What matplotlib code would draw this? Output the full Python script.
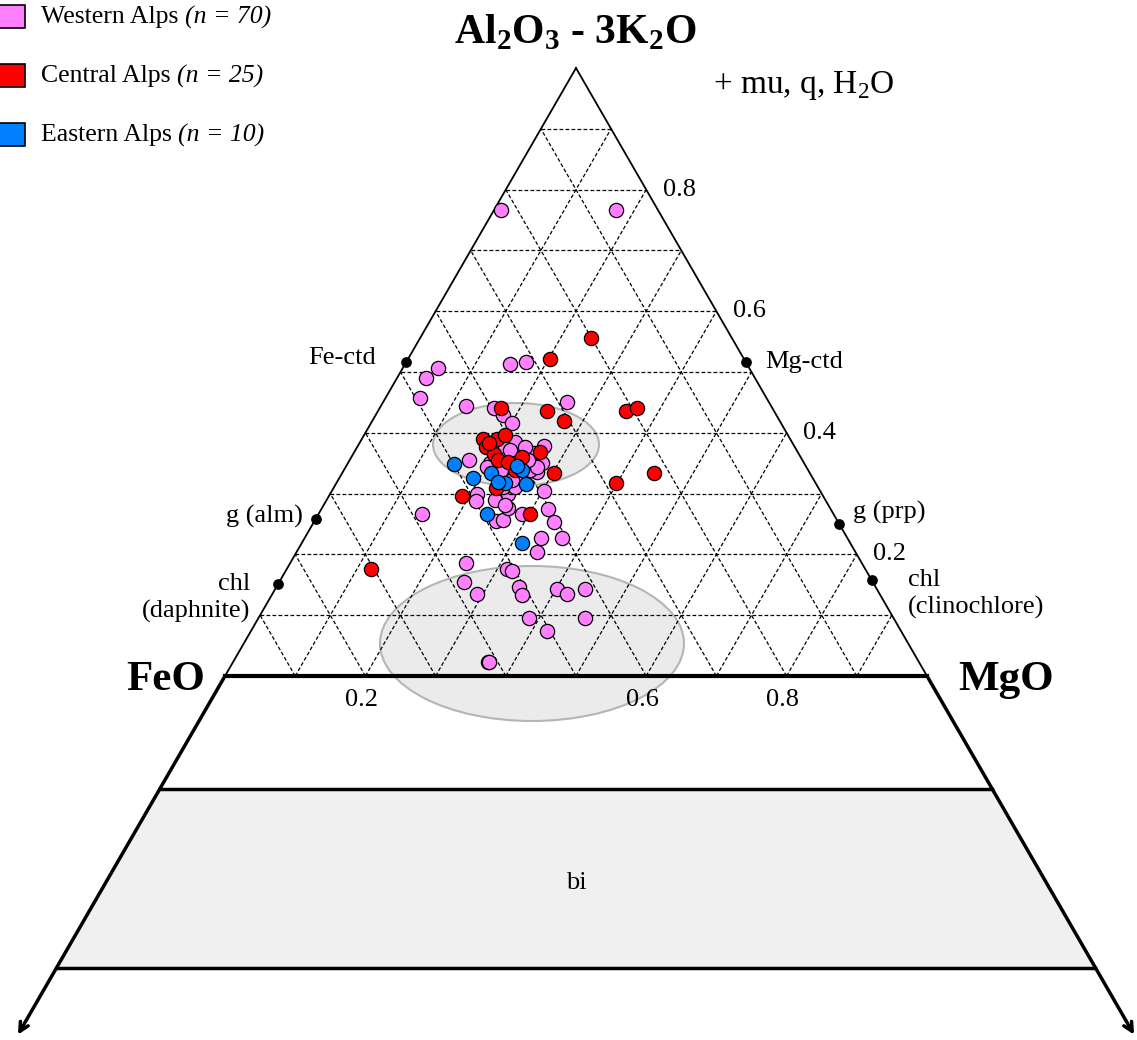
import numpy as np
import matplotlib.pyplot as plt
from matplotlib.patches import Ellipse, Polygon, Rectangle

plt.rcParams['font.family'] = ['Liberation Serif', 'DejaVu Serif']
plt.rcParams['mathtext.fontset'] = 'custom'
plt.rcParams['mathtext.rm'] = 'Liberation Serif'
plt.rcParams['mathtext.bf'] = 'Liberation Serif:bold'

# AFM projection: A = Al2O3 - 3K2O fraction, M = MgO fraction (F = 1 - A - M)
west_A = [0.766, 0.766, 0.507, 0.490, 0.457, 0.513, 0.516, 0.444, 0.441, 0.429,
          0.416, 0.451, 0.385, 0.375, 0.368, 0.378, 0.367, 0.360, 0.355, 0.350,
          0.350, 0.350, 0.336, 0.326, 0.327, 0.299, 0.304, 0.299, 0.288, 0.311,
          0.266, 0.255, 0.257, 0.276, 0.266, 0.275, 0.253, 0.227, 0.227, 0.204,
          0.186, 0.176, 0.173, 0.155, 0.135, 0.146, 0.133, 0.143, 0.135, 0.143,
          0.095, 0.095, 0.074, 0.023, 0.023, 0.363, 0.339, 0.344, 0.317, 0.311,
          0.311, 0.344, 0.372, 0.377, 0.339, 0.322, 0.355, 0.289, 0.352, 0.281]
west_M = [0.010, 0.174, 0.050, 0.041, 0.049, 0.149, 0.171, 0.121, 0.162, 0.181,
          0.201, 0.262, 0.221, 0.211, 0.246, 0.265, 0.257, 0.223, 0.170, 0.202,
          0.264, 0.277, 0.276, 0.230, 0.252, 0.253, 0.302, 0.210, 0.214, 0.252,
          0.148, 0.258, 0.267, 0.265, 0.290, 0.322, 0.342, 0.336, 0.366, 0.342,
          0.250, 0.314, 0.323, 0.263, 0.291, 0.346, 0.356, 0.402, 0.419, 0.442,
          0.385, 0.466, 0.422, 0.363, 0.365, 0.238, 0.265, 0.272, 0.261, 0.241,
          0.258, 0.201, 0.220, 0.239, 0.223, 0.248, 0.254, 0.240, 0.241, 0.258]

central_A = [0.556, 0.521, 0.441, 0.436, 0.419, 0.436, 0.441, 0.390, 0.377, 0.390,
             0.396, 0.368, 0.365, 0.355, 0.360, 0.339, 0.334, 0.309, 0.296, 0.266,
             0.317, 0.334, 0.176, 0.383, 0.352]
central_M = [0.243, 0.203, 0.173, 0.241, 0.274, 0.353, 0.367, 0.173, 0.184, 0.192,
             0.201, 0.265, 0.200, 0.211, 0.243, 0.243, 0.302, 0.232, 0.190, 0.301,
             0.398, 0.444, 0.120, 0.184, 0.227]

eastern_A = [0.349, 0.326, 0.334, 0.339, 0.316, 0.266, 0.219, 0.317, 0.345, 0.319]
eastern_M = [0.151, 0.190, 0.212, 0.254, 0.271, 0.240, 0.314, 0.240, 0.244, 0.229]

# end-member phases
phase_names = ['Fe-ctd', 'Mg-ctd', 'g (alm)', 'g (prp)', 'chl\n(daphnite)', 'chl\n(clinochlore)']
phase_A = [0.516, 0.516, 0.258, 0.250, 0.151, 0.158]
phase_M = [0.000, 0.484, 0.000, 0.750, 0.000, 0.842]

right_ticks = [0.8, 0.6, 0.4, 0.2]
base_ticks = [0.2, 0.6, 0.8]

# biotite band and lower limit of the projection
bi_top, bi_bot, arrow_end = -0.186, -0.480, -0.59

H = np.sqrt(3) / 2


def tern(A, M):
    A = np.asarray(A, dtype=float)
    M = np.asarray(M, dtype=float)
    return M + A / 2, A * H


def px(x, y):
    # reference pixel position -> data coordinates (layout only)
    return (x - 225) / 702, (676 - y) / 702


fig = plt.figure(figsize=(11.37, 10.40), dpi=100)
ax = fig.add_axes([0, 0, 1, 1])
ax.set_xlim(-225 / 702, 912 / 702)
ax.set_ylim(-364 / 702, 676 / 702)
ax.axis('off')

# grid
gkw = dict(color='k', lw=0.9, ls=(0, (3, 1.8)), zorder=2)
for k in range(1, 10):
    t = k / 10
    ax.plot(*tern([t, t], [0, 1 - t]), **gkw)
    ax.plot(*tern([0, 1 - t], [t, t]), **gkw)
    ax.plot(*tern([0, 1 - t], [1 - t, 0]), **gkw)

# triangle
ax.plot(*tern([0, 1], [0, 0]), color='k', lw=1.3, zorder=3)
ax.plot(*tern([0, 1], [1, 0]), color='k', lw=1.3, zorder=3)
ax.plot(*tern([0, 0], [0, 1]), color='k', lw=3, zorder=3)

# below the base: biotite band and arrows
bx1, by1 = tern([bi_top, bi_top, bi_bot, bi_bot], [0, 1 - bi_top, 1 - bi_bot, 0])
ax.add_patch(Polygon(np.column_stack([bx1, by1]), closed=True,
                     facecolor='#f0f0f0', edgecolor='none', zorder=1))
for a in [bi_top, bi_bot]:
    ax.plot(*tern([a, a], [0, 1 - a]), color='k', lw=2.5, zorder=3)
for m0, m1 in [(0, 0), (1, 1 - arrow_end)]:
    ax.annotate('', xy=tern(arrow_end, m1), xytext=tern(0, m0),
                arrowprops=dict(arrowstyle='->', lw=2.5, color='k',
                                shrinkA=0, shrinkB=0, mutation_scale=16), zorder=3)
ax.text(*tern(-0.34, 0.67), 'bi', fontsize=19, ha='center', va='center')

# grey fields
ax.add_patch(Ellipse(px(516, 444.5), 166 / 702, 83 / 702, facecolor='#ebebeb',
                     edgecolor='#b5b5b5', lw=1.5, zorder=1))
ax.add_patch(Ellipse(px(532, 643.5), 304 / 702, 155 / 702, facecolor='#ebebeb',
                     edgecolor='#b5b5b5', lw=1.5, zorder=1))

# samples
skw = dict(s=105, edgecolors='k', linewidths=0.9, zorder=5)
ax.scatter(*tern(west_A, west_M), c='#ff80ff', **skw)
ax.scatter(*tern(central_A, central_M), c='#ff0000', **skw)
ax.scatter(*tern(eastern_A, eastern_M), c='#0080ff', **skw)

# phases
ax.scatter(*tern(phase_A, phase_M), s=45, c='k', zorder=6)
offsets = [(-22, 3), (14, 0), (-9, 2), (10, 8), (-20, -10), (26, -10)]
aligns = ['right', 'left', 'right', 'left', 'right', 'left']
for name, a, m, off, al in zip(phase_names, phase_A, phase_M, offsets, aligns):
    ax.annotate(name, xy=tern(a, m), xytext=off, textcoords='offset points',
                ha=al, va='center', fontsize=19, multialignment=al, linespacing=1.3)

# tick labels
for t in right_ticks:
    ax.annotate(f'{t:.1f}', xy=tern(t, 1 - t), xytext=(12, 0), textcoords='offset points',
                ha='left', va='center', fontsize=19)
for t in base_ticks:
    ax.annotate(f'{t:.1f}', xy=tern(0, t), xytext=(-3, -17), textcoords='offset points',
                ha='center', va='center', fontsize=19)

# apex / corner labels
ax.text(*px(575, 32), r'Al$_\mathbf{2}$O$_\mathbf{3}$ - 3K$_\mathbf{2}$O', fontsize=30,
        fontweight='bold', ha='center', va='center')
ax.text(*px(804, 86), r'+ mu, q, H$_2$O', fontsize=24, ha='center', va='center')
ax.text(*px(205, 680), 'FeO', fontsize=31, fontweight='bold', ha='right', va='center')
ax.text(*px(958, 680), 'MgO', fontsize=31, fontweight='bold', ha='left', va='center')

# legend
legend_items = [('Western Alps', '(n = 70)', '#ff80ff'),
                ('Central Alps', '(n = 25)', '#ff0000'),
                ('Eastern Alps', '(n = 10)', '#0080ff')]
for i, (lab, n, col) in enumerate(legend_items):
    yc = 17 + 59 * i
    fig.patches.append(Rectangle((-3 / 1137, 1 - (yc + 11) / 1040), 28 / 1137, 23 / 1040,
                                 transform=fig.transFigure, facecolor=col,
                                 edgecolor='k', lw=1.2))
    t1 = fig.text(41 / 1137, 1 - yc / 1040, lab + ' ', fontsize=18.5, ha='left', va='center')
    ax.annotate(n, xy=(1, 0.5), xycoords=t1, fontsize=18.5, fontstyle='italic',
                ha='left', va='center')

fig.savefig('out.png', dpi=100)
